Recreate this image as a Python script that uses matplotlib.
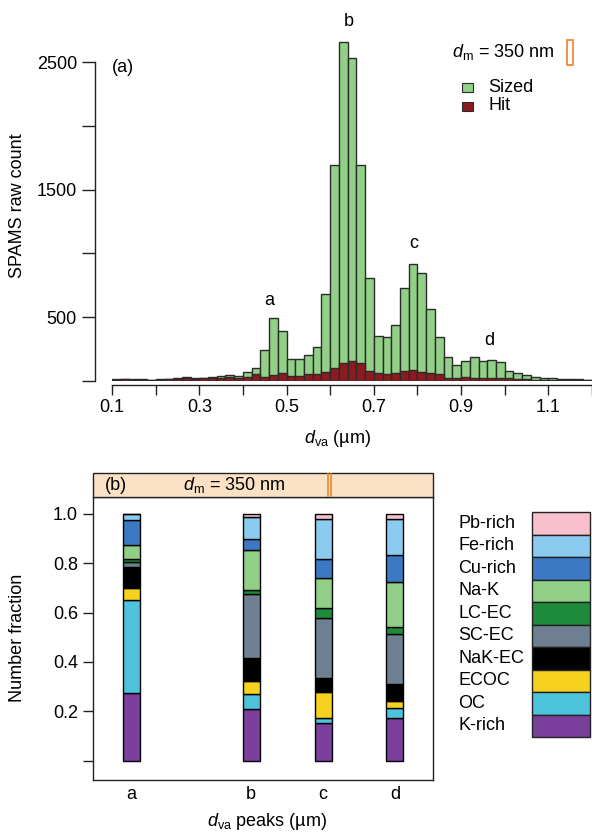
import matplotlib
matplotlib.use("Agg")
import matplotlib.pyplot as plt
from matplotlib.patches import Rectangle
from matplotlib.lines import Line2D
import numpy as np

plt.rcParams['font.family'] = ['Liberation Sans', 'DejaVu Sans']
plt.rcParams['mathtext.fontset'] = 'custom'
plt.rcParams['mathtext.rm'] = 'Liberation Sans'
plt.rcParams['mathtext.it'] = 'Liberation Sans:italic'

# ---------------- data ----------------
# (a) SPAMS size distribution, 0.02 um bins starting at 0.10 um
bin_left = np.round(np.arange(0.10, 1.19, 0.02), 2)
bin_width = 0.02
sized_counts = [13, 18, 13, 13, 10, 16, 16, 21, 29, 21,
                26, 29, 42, 50, 37, 68, 104, 243, 496, 394,
                170, 172, 206, 264, 679, 1693, 2654, 2529, 1693, 805,
                355, 347, 441, 726, 915, 849, 562, 342, 191, 125,
                159, 188, 157, 165, 149, 81, 60, 45, 34, 26,
                23, 16, 18, 13, 5]
hit_counts = [10, 13, 10, 10, 8, 10, 13, 18, 23, 18,
              21, 23, 26, 29, 23, 34, 52, 34, 47, 62,
              39, 39, 52, 52, 68, 99, 144, 157, 140, 75,
              60, 55, 60, 81, 86, 68, 60, 52, 26, 26,
              34, 26, 23, 26, 23, 21, 16, 13, 10, 8,
              8, 10, 8, 10, 4]
peak_names = ['a', 'b', 'c', 'd']
peak_label_x = [0.460, 0.643, 0.792, 0.964]
peak_label_y = [627, 2821, 1074, 321]

# (b) particle-class number fractions at each peak (bottom to top)
classes = ['K-rich', 'OC', 'ECOC', 'NaK-EC', 'SC-EC', 'LC-EC',
           'Na-K', 'Cu-rich', 'Fe-rich', 'Pb-rich']
class_colors = ['#7A3E9D', '#4EC3DC', '#F6D21E', '#000000', '#6D7F90',
                '#1E8B3C', '#92CF86', '#3B79C3', '#8BCBF0', '#F8BFCC']
frac_a = [0.275, 0.376, 0.048, 0.085, 0.020, 0.012, 0.055, 0.103, 0.022, 0.004]
frac_b = [0.210, 0.060, 0.055, 0.090, 0.260, 0.016, 0.160, 0.046, 0.090, 0.013]
frac_c = [0.155, 0.020, 0.105, 0.057, 0.242, 0.038, 0.121, 0.077, 0.162, 0.023]
frac_d = [0.175, 0.038, 0.030, 0.067, 0.202, 0.030, 0.183, 0.107, 0.144, 0.024]
fractions = [frac_a, frac_b, frac_c, frac_d]

# ---------------- layout helpers ----------------
W, H, DPI = 592, 833, 100
PT = 72.0 / DPI  # points per pixel


def fx(x):
    return x / W


def fy(y):
    return 1 - y / H


SIZED_C = '#92CF87'
HIT_C = '#8C1A1E'
EDGE_C = '#2B2B2B'
ORANGE = '#F0822A'
PEACH = '#FCE2C4'
FS = 13

fig = plt.figure(figsize=(W / DPI, H / DPI), dpi=DPI)

# ---------------- panel (a) ----------------
ax1 = fig.add_axes([fx(112), fy(381), 480 / W, (381 - 36.5) / H])
ax1.bar(bin_left, sized_counts, width=bin_width, align='edge',
        color=SIZED_C, edgecolor=EDGE_C, linewidth=1.0)
ax1.bar(bin_left, hit_counts, width=bin_width, align='edge',
        color=HIT_C, edgecolor=EDGE_C, linewidth=1.0)
ax1.set_xlim(0.1, 1.2)
ax1.set_ylim(0, 2700)
for s in ('top', 'right'):
    ax1.spines[s].set_visible(False)
ax1.spines['left'].set_position(('outward', 17 * PT))
ax1.spines['left'].set_bounds(0, 2500)
ax1.spines['bottom'].set_position(('outward', 4 * PT))
ax1.spines['bottom'].set_bounds(0.1, 1.2)
for s in ('left', 'bottom'):
    ax1.spines[s].set_linewidth(1.0)
    ax1.spines[s].set_color('#222222')

yt = [0, 500, 1000, 1500, 2000, 2500]
ax1.set_yticks(yt)
ax1.set_yticklabels(['' if v % 1000 == 0 else str(v) for v in yt])
xt = np.round(np.arange(0.1, 1.21, 0.1), 1)
ax1.set_xticks(xt)
ax1.set_xticklabels([f'{v:.1f}' if i % 2 == 0 else '' for i, v in enumerate(xt)])
ax1.tick_params(axis='y', length=13 * PT, width=1.0, pad=5 * PT,
                labelsize=FS, color='#222222')
ax1.tick_params(axis='x', length=10 * PT, width=1.0, pad=4 * PT,
                labelsize=FS, color='#222222')

for name, x, y in zip(peak_names, peak_label_x, peak_label_y):
    ax1.text(x, y, name, ha='center', va='center', fontsize=FS, clip_on=False)
fig.text(fx(112), fy(67), '(a)', ha='left', va='center', fontsize=FS)

fig.text(fx(18), fy(206), 'SPAMS raw count', rotation=90,
         ha='center', va='center', fontsize=FS)
fig.text(fx(338), fy(438), r'$d_{\mathrm{va}}$ (µm)', ha='center',
         va='center', fontsize=FS)

# legend of panel (a)
fig.text(fx(452), fy(52), r'$d_{\mathrm{m}}$ = 350 nm', ha='left',
         va='center', fontsize=FS)
fig.add_artist(Rectangle((fx(567), fy(65)), 6 / W, 25 / H,
                         transform=fig.transFigure, fill=False,
                         edgecolor=ORANGE, linewidth=1.2))
fig.add_artist(Rectangle((fx(462), fy(92)), 11 / W, 9 / H,
                         transform=fig.transFigure, facecolor=SIZED_C,
                         edgecolor=EDGE_C, linewidth=0.8))
fig.text(fx(488), fy(87), 'Sized', ha='left', va='center', fontsize=FS)
fig.add_artist(Rectangle((fx(462), fy(111)), 11 / W, 9 / H,
                         transform=fig.transFigure, facecolor=HIT_C,
                         edgecolor=EDGE_C, linewidth=0.8))
fig.text(fx(488), fy(106), 'Hit', ha='left', va='center', fontsize=FS)

# ---------------- panel (b) ----------------
slot = [0, 5, 8, 11]
ax2 = fig.add_axes([fx(93), fy(780), 340 / W, 283 / H])
for pos, frac in zip(slot, fractions):
    bottom = 0.0
    for val, col in zip(frac, class_colors):
        ax2.bar(pos, val, bottom=bottom, width=0.71, color=col,
                edgecolor='black', linewidth=1.0)
        bottom += val
ax2.set_xlim(-1.607, 12.587)
ax2.set_ylim(-0.0768, 1.0667)
yt2 = [0.0, 0.2, 0.4, 0.6, 0.8, 1.0]
ax2.set_yticks(yt2)
ax2.set_yticklabels(['' if v == 0 else f'{v:.1f}' for v in yt2])
ax2.set_xticks(slot)
ax2.set_xticklabels(peak_names)
ax2.tick_params(axis='y', length=10 * PT, width=1.0, pad=5 * PT,
                labelsize=FS, color='#222222')
ax2.tick_params(axis='x', length=0, pad=6 * PT, labelsize=FS)
for s in ax2.spines.values():
    s.set_linewidth(1.0)
    s.set_color('#222222')

# header strip
fig.add_artist(Rectangle((fx(93), fy(497)), 340 / W, 24 / H,
                         transform=fig.transFigure, facecolor=PEACH,
                         edgecolor='#222222', linewidth=1.0))
fig.text(fx(105), fy(485), '(b)', ha='left', va='center', fontsize=FS)
fig.text(fx(183), fy(485), r'$d_{\mathrm{m}}$ = 350 nm', ha='left',
         va='center', fontsize=FS)
for xl in (328, 331):
    fig.add_artist(Line2D([fx(xl), fx(xl)], [fy(474), fy(496)],
                          transform=fig.transFigure, color=ORANGE,
                          linewidth=1.2))

fig.text(fx(18), fy(638), 'Number fraction', rotation=90,
         ha='center', va='center', fontsize=FS)
fig.text(fx(267), fy(822), r'$d_{\mathrm{va}}$ peaks (µm)', ha='center',
         va='center', fontsize=FS)

# class legend
box_h = 22.5
for i, (name, col) in enumerate(zip(classes[::-1], class_colors[::-1])):
    top = 512 + i * box_h
    fig.add_artist(Rectangle((fx(532), fy(top + box_h)), 58 / W, box_h / H,
                             transform=fig.transFigure, facecolor=col,
                             edgecolor='#222222', linewidth=1.0))
    fig.text(fx(458), fy(top + box_h / 2), name, ha='left', va='center',
             fontsize=FS)

fig.savefig('out.png', dpi=DPI)
